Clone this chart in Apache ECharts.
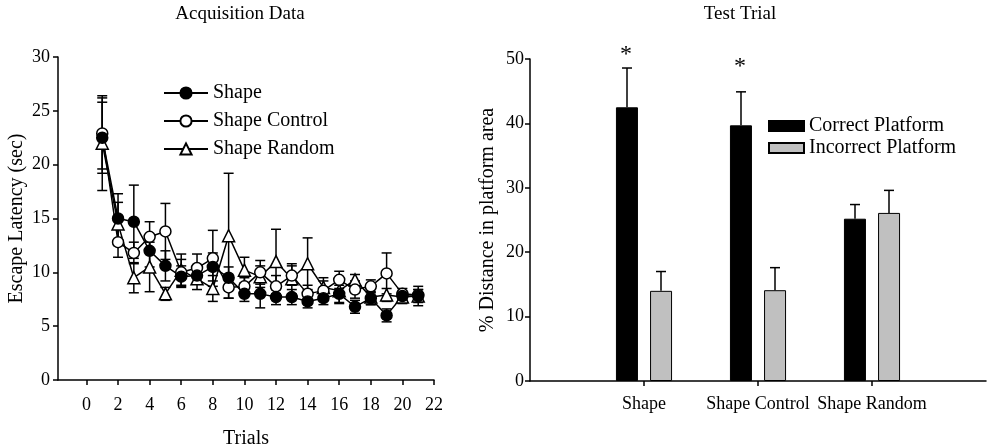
<!DOCTYPE html>
<html>
<head>
<meta charset="utf-8">
<script src="https://cdn.jsdelivr.net/npm/echarts@6/dist/echarts.min.js"></script>
<style>
  html, body { margin: 0; padding: 0; background: #fff; }
  #main { width: 987px; height: 446px; }
</style>
</head>
<body>
<div id="main"></div>
<script>
// acquisition data (left panel)
const trials = [1, 2, 3, 4, 5, 6, 7, 8, 9, 10, 11, 12, 13, 14, 15, 16, 17, 18, 19, 20, 21];
const shapeMean = [22.5, 15.0, 14.7, 12.0, 10.6, 9.6, 9.7, 10.5, 9.5, 8.0, 8.0, 7.7, 7.7, 7.3, 7.6, 8.0, 6.8, 7.6, 6.0, 7.8, 7.8];
const shapeErr = [3.3, 2.3, 3.4, 1.5, 1.4, 1.0, 0.8, 1.3, 1.0, 0.7, 1.3, 0.7, 0.7, 0.6, 0.6, 0.8, 0.6, 0.6, 0.6, 0.4, 0.6];
const controlMean = [22.9, 12.8, 11.8, 13.3, 13.8, 10.0, 10.4, 11.3, 8.6, 8.7, 10.0, 8.7, 9.7, 8.0, 8.3, 9.3, 8.4, 8.7, 9.9, 8.0, 7.9];
const controlErr = [3.3, 1.4, 1.0, 1.4, 2.6, 1.2, 1.3, 2.6, 1.0, 0.8, 1.1, 1.0, 0.9, 0.8, 0.9, 0.8, 0.8, 0.6, 1.9, 0.5, 0.5];
const randomMean = [22.0, 14.5, 9.5, 10.5, 8.0, 10.2, 9.4, 8.5, 13.4, 10.2, 9.6, 11.0, 9.4, 10.8, 8.6, 8.3, 9.3, 7.7, 7.9, 7.7, 7.8];
const randomErr = [4.4, 2.0, 1.4, 2.3, 0.6, 1.5, 1.0, 1.2, 5.8, 1.2, 1.0, 3.0, 1.4, 2.4, 0.9, 1.2, 0.5, 0.7, 0.6, 0.6, 0.9];
const trialTicks = [0, 2, 4, 6, 8, 10, 12, 14, 16, 18, 20, 22];

// test trial (right panel)
const groups = ['Shape', 'Shape Control', 'Shape Random'];
const correct = [42.5, 39.7, 25.2];
const correctErr = [6.1, 5.2, 2.2];
const incorrect = [14.0, 14.1, 26.1];
const incorrectErr = [3.0, 3.5, 3.5];
const stars = ['*', '*', ''];
const starAt = [50.6, 48.8, 0];

const FONT = 'Liberation Serif';
const txt = { color: '#000', fontFamily: FONT, fontSize: 18 };
const big = { color: '#000', fontFamily: FONT, fontSize: 20 };

var myChart = echarts.init(document.getElementById('main'));

// pad categories so ticks sit at 1,2,3 on a 0..4 axis
const cats = [''].concat(groups, ['']);
const pad = (arr) => ['-'].concat(arr, ['-']);

function pairs(means) {
  return trials.map((t, i) => [t, means[i]]);
}
function errData(means, errs) {
  return trials.map((t, i) => [t, means[i], errs[i]]);
}

// two-sided error bars for the line chart
function renderErr(params, api) {
  const t = api.value(0), m = api.value(1), e = api.value(2);
  const top = api.coord([t, m + e]);
  const bot = api.coord([t, m - e]);
  const st = { stroke: '#000', lineWidth: 1.5 };
  return {
    type: 'group',
    children: [
      { type: 'line', shape: { x1: top[0], y1: top[1], x2: bot[0], y2: bot[1] }, style: st },
      { type: 'line', shape: { x1: top[0] - 5, y1: top[1], x2: top[0] + 5, y2: top[1] }, style: st },
      { type: 'line', shape: { x1: bot[0] - 5, y1: bot[1], x2: bot[0] + 5, y2: bot[1] }, style: st }
    ]
  };
}

// upward error bars for the bars, shifted to each bar centre
function barErr(shift, withStar) {
  return function (params, api) {
    const i = api.value(0), v = api.value(1), e = api.value(2);
    const base = api.coord([i, v]);
    const top = api.coord([i, v + e]);
    const x = base[0] + shift;
    const st = { stroke: '#000', lineWidth: 1.5 };
    const kids = [
      { type: 'line', shape: { x1: x, y1: base[1], x2: x, y2: top[1] }, style: st },
      { type: 'line', shape: { x1: x - 5, y1: top[1], x2: x + 5, y2: top[1] }, style: st }
    ];
    if (withStar && stars[i - 1]) {
      const sp = api.coord([i, starAt[i - 1]]);
      kids.push({
        type: 'text',
        style: { x: x - 1, y: sp[1], text: stars[i - 1], fill: '#000', font: '24px ' + FONT, align: 'center', verticalAlign: 'middle' }
      });
    }
    return { type: 'group', children: kids };
  };
}

const lineBase = {
  type: 'line',
  xAxisIndex: 0,
  yAxisIndex: 0,
  lineStyle: { color: '#000', width: 1.5 },
  z: 3
};

var option = {
  animation: false,
  backgroundColor: '#fff',
  textStyle: { fontFamily: FONT },
  title: [
    { text: 'Acquisition Data', left: 235, top: 0, textAlign: 'center', textStyle: { ...txt, fontSize: 19, fontWeight: 'normal' } },
    { text: 'Test Trial', left: 735, top: 0, textAlign: 'center', textStyle: { ...txt, fontSize: 19, fontWeight: 'normal' } }
  ],
  legend: [
    {
      data: ['Shape', 'Shape Control', 'Shape Random'],
      orient: 'vertical',
      left: 163,
      top: 83,
      padding: 0,
      itemWidth: 44,
      itemHeight: 14,
      itemGap: 8,
      textStyle: { ...big, lineHeight: 20 }
    },
    {
      data: ['Correct Platform', 'Incorrect Platform'],
      orient: 'vertical',
      left: 768,
      top: 116,
      padding: 0,
      icon: 'rect',
      itemWidth: 35,
      itemHeight: 10,
      itemGap: 2,
      textStyle: { ...big, lineHeight: 20 }
    }
  ],
  grid: [
    { left: 58, right: 553, top: 57, bottom: 66, outerBoundsMode: 'none', containLabel: false },
    { left: 530, right: 1, top: 59, bottom: 65, outerBoundsMode: 'none', containLabel: false }
  ],
  xAxis: [
    {
      gridIndex: 0,
      type: 'value',
      min: -1.8,
      max: 22,
      name: 'Trials',
      nameLocation: 'middle',
      nameGap: 49,
      nameTextStyle: big,
      splitLine: { show: false },
      axisLine: { onZero: false, lineStyle: { color: '#000', width: 1.5 } },
      axisTick: { customValues: trialTicks, length: 5, lineStyle: { color: '#000', width: 1.5 } },
      axisLabel: { customValues: trialTicks, margin: 16, ...txt }
    },
    {
      gridIndex: 1,
      type: 'category',
      data: cats,
      boundaryGap: false,
      axisLine: { lineStyle: { color: '#000', width: 1.5 } },
      axisTick: { interval: (idx) => idx >= 1 && idx <= groups.length, length: 5, lineStyle: { color: '#000', width: 1.5 } },
      axisLabel: { interval: 0, margin: 14, ...txt }
    }
  ],
  yAxis: [
    {
      gridIndex: 0,
      type: 'value',
      min: 0,
      max: 30,
      interval: 5,
      name: 'Escape Latency (sec)',
      nameLocation: 'middle',
      nameGap: 31,
      nameTextStyle: big,
      splitLine: { show: false },
      axisLine: { show: true, onZero: false, lineStyle: { color: '#000', width: 1.5 } },
      axisTick: { show: true, length: 5, lineStyle: { color: '#000', width: 1.5 } },
      axisLabel: { margin: 8, ...txt }
    },
    {
      gridIndex: 1,
      type: 'value',
      min: 0,
      max: 50,
      interval: 10,
      name: '% Distance in platform area',
      nameLocation: 'middle',
      nameGap: 32,
      nameTextStyle: big,
      splitLine: { show: false },
      axisLine: { show: true, onZero: false, lineStyle: { color: '#000', width: 1.5 } },
      axisTick: { show: true, length: 5, lineStyle: { color: '#000', width: 1.5 } },
      axisLabel: { margin: 6, ...txt }
    }
  ],
  series: [
    { type: 'custom', xAxisIndex: 0, yAxisIndex: 0, renderItem: renderErr, data: errData(shapeMean, shapeErr), z: 2, silent: true },
    { type: 'custom', xAxisIndex: 0, yAxisIndex: 0, renderItem: renderErr, data: errData(controlMean, controlErr), z: 2, silent: true },
    { type: 'custom', xAxisIndex: 0, yAxisIndex: 0, renderItem: renderErr, data: errData(randomMean, randomErr), z: 2, silent: true },
    {
      ...lineBase,
      name: 'Shape Random',
      data: pairs(randomMean),
      symbol: 'triangle',
      symbolSize: 12,
      itemStyle: { color: '#fff', borderColor: '#000', borderWidth: 1.5 }
    },
    {
      ...lineBase,
      name: 'Shape Control',
      data: pairs(controlMean),
      symbol: 'circle',
      symbolSize: 11,
      itemStyle: { color: '#fff', borderColor: '#000', borderWidth: 1.5 }
    },
    {
      ...lineBase,
      name: 'Shape',
      data: pairs(shapeMean),
      symbol: 'circle',
      symbolSize: 11,
      itemStyle: { color: '#000', borderColor: '#000', borderWidth: 1.5 }
    },
    {
      name: 'Correct Platform',
      type: 'bar',
      xAxisIndex: 1,
      yAxisIndex: 1,
      data: pad(correct),
      barWidth: 22,
      barGap: '55%',
      itemStyle: { color: '#000', borderColor: '#000', borderWidth: 1 }
    },
    {
      name: 'Incorrect Platform',
      type: 'bar',
      xAxisIndex: 1,
      yAxisIndex: 1,
      data: pad(incorrect),
      barWidth: 22,
      barGap: '55%',
      itemStyle: { color: '#c0c0c0', borderColor: '#000', borderWidth: 1 }
    },
    {
      type: 'custom', xAxisIndex: 1, yAxisIndex: 1, silent: true, z: 3,
      renderItem: barErr(-17, true),
      data: groups.map((g, i) => [i + 1, correct[i], correctErr[i]])
    },
    {
      type: 'custom', xAxisIndex: 1, yAxisIndex: 1, silent: true, z: 3,
      renderItem: barErr(17, false),
      data: groups.map((g, i) => [i + 1, incorrect[i], incorrectErr[i]])
    }
  ]
};

option && myChart.setOption(option);
</script>
</body>
</html>
